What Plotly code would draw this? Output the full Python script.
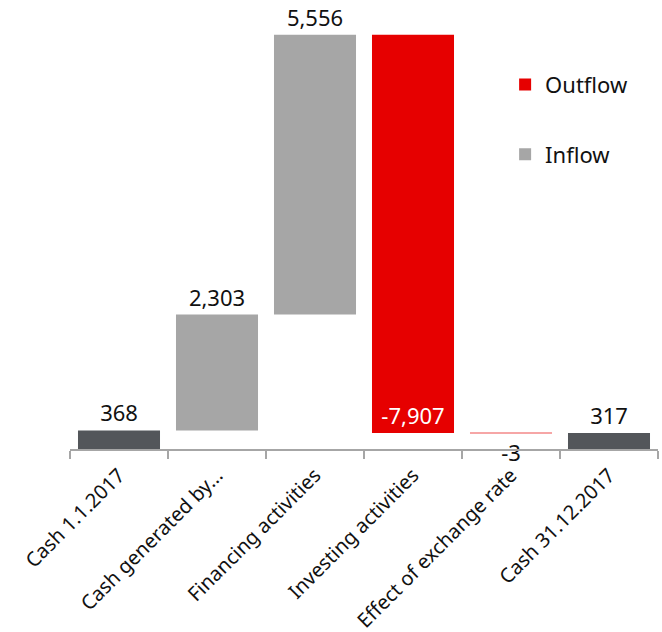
import plotly.graph_objects as go

# Cash flow bridge 2017 (values in millions)
categories = ["Cash 1.1.2017", "Cash generated by...", "Financing activities",
              "Investing activities", "Effect of exchange rate", "Cash 31.12.2017"]
opening_cash = 368
flows = [2303, 5556, -7907, -3]
closing_cash = 317

RED = "#e60000"
LIGHT = "#a6a6a6"
DARK = "#53565a"
FONT = "Noto Sans"

# running totals give the base of each movement bar
bases = []
level = opening_cash
for v in flows:
    bases.append(level)
    level += v

flow_cats = categories[1:5]
inflow_idx = [i for i, v in enumerate(flows) if v > 0]
outflow_idx = [i for i, v in enumerate(flows) if v < 0]


def fmt(v):
    return f"{v:,}"


fig = go.Figure()

fig.add_trace(go.Bar(
    name="Outflow",
    x=[flow_cats[i] for i in outflow_idx],
    y=[flows[i] for i in outflow_idx],
    base=[bases[i] for i in outflow_idx],
    # hairline movements are drawn faint, like a sub-pixel sliver
    marker=dict(color=RED, line=dict(width=0),
                opacity=[1 if abs(flows[i]) > 100 else 0.35 for i in outflow_idx]),
    text=[fmt(flows[i]) for i in outflow_idx],
    textposition=["inside" if abs(flows[i]) > 100 else "outside" for i in outflow_idx],
    insidetextanchor="end",
    insidetextfont=dict(color="white", size=22, family=FONT),
    outsidetextfont=dict(color="#111111", size=22, family=FONT),
    textangle=0,
    cliponaxis=False,
    legendgroup="out",
))

fig.add_trace(go.Bar(
    name="Inflow",
    x=[flow_cats[i] for i in inflow_idx],
    y=[flows[i] for i in inflow_idx],
    base=[bases[i] for i in inflow_idx],
    marker=dict(color=LIGHT, line=dict(width=0)),
    text=[fmt(flows[i]) for i in inflow_idx],
    textposition="outside",
    outsidetextfont=dict(color="#111111", size=22, family=FONT),
    textangle=0,
    cliponaxis=False,
    legendgroup="in",
))

fig.add_trace(go.Bar(
    name="Cash",
    x=[categories[0], categories[-1]],
    y=[opening_cash, closing_cash],
    marker=dict(color=DARK, line=dict(width=0)),
    text=[fmt(opening_cash), fmt(closing_cash)],
    textposition="outside",
    outsidetextfont=dict(color="#111111", size=22, family=FONT),
    textangle=0,
    cliponaxis=False,
    showlegend=False,
))

fig.update_layout(
    width=662, height=632,
    margin=dict(l=70, r=4, t=21, b=183),
    paper_bgcolor="white", plot_bgcolor="white",
    barmode="overlay",
    bargap=0.163,
    font=dict(family=FONT, color="#111111"),
    legend=dict(
        x=0.74, y=0.9, xanchor="left", yanchor="top",
        font=dict(size=22, family=FONT, color="#111111"),
        tracegroupgap=38,
        itemwidth=30,
        bgcolor="rgba(0,0,0,0)",
    ),
    xaxis=dict(
        type="category",
        categoryorder="array", categoryarray=categories,
        automargin=False,
        showline=True, linecolor="#a6a6a6", linewidth=1.5,
        ticks="outside", tickson="boundaries", ticklen=8,
        tickcolor="#a6a6a6", tickwidth=1.5,
        tickangle=-45,
        ticklabelstandoff=5,
        tickfont=dict(size=20, family=FONT, color="#111111"),
        showgrid=False, zeroline=False,
    ),
    yaxis=dict(
        range=[0, 8500], visible=False, showgrid=False, zeroline=False,
        automargin=False,
    ),
)

fig.write_html("out.html")
